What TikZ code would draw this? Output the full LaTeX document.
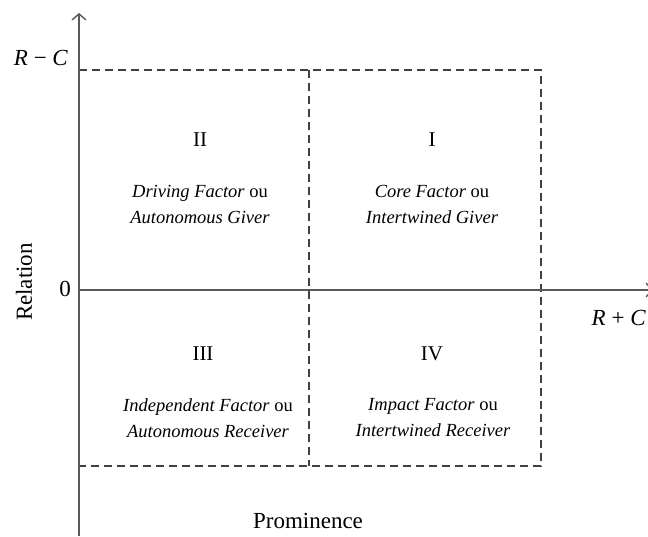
\documentclass[tikz,border=0pt]{standalone}
\usepackage{fontspec}
\setmainfont{Liberation Serif}
\usepackage{tikz}
\usetikzlibrary{arrows.meta}

\tikzset{
  axis/.style={draw=black!65, line width=1.4pt},
  grid/.style={draw=black!75, line width=1.1pt, dash pattern=on 8pt off 5pt},
  quad/.style={align=center, font=\fontsize{18.5}{26}\selectfont, inner sep=0pt},
  num/.style={font=\fontsize{21}{24}\selectfont, inner sep=0pt},
  lab/.style={font=\fontsize{23}{26}\selectfont, inner sep=0pt}
}

\begin{document}
\begin{tikzpicture}[x=1pt,y=1pt]
		\useasboundingbox (0,0) rectangle (648,536);
		
		\coordinate (O) at (79,246);
		\coordinate (ytop) at (79,523);
		\coordinate (ybot) at (79,0);
		\coordinate (xend) at (653,246);
		
		\draw[grid] (79,466) -- (541,466) -- (541,70) -- (79,70);
		\draw[grid] (309,466) -- (309,70);
		
		\draw[axis, -{Straight Barb[length=6pt,width=14pt]}] (ybot) -- (ytop);
		\draw[axis, -{Straight Barb[length=6pt,width=14pt]}] (O) -- (xend);
		
		\node[lab] (rmc) at (41,478) {\textit{R} − \textit{C}};
		\node[lab] (zero) at (65,247) {0};
		\node[lab, anchor=east] (rpc) at (646,218) {\textit{R} + \textit{C}};
		\node[lab, rotate=90] (rel) at (24,254) {Relation};
		\node[lab] (prom) at (308,15) {Prominence};
		
		\node[num] (q2) at (200,396) {II};
		\node[num] (q1) at (432,396) {I};
		\node[num] (q3) at (203,182) {III};
		\node[num] (q4) at (432,182) {IV};
		
		\node[quad] (t2) at (200,332) {\textit{Driving Factor} ou\\ \textit{Autonomous Giver}};
		\node[quad] (t1) at (432,332) {\textit{Core Factor} ou\\ \textit{Intertwined Giver}};
		\node[quad] (t3) at (208,118) {\textit{Independent Factor} ou\\ \textit{Autonomous Receiver}};
		\node[quad] (t4) at (433,118) {\textit{Impact Factor} ou\\ \textit{Intertwined Receiver}};
	\end{tikzpicture}
\end{document}
